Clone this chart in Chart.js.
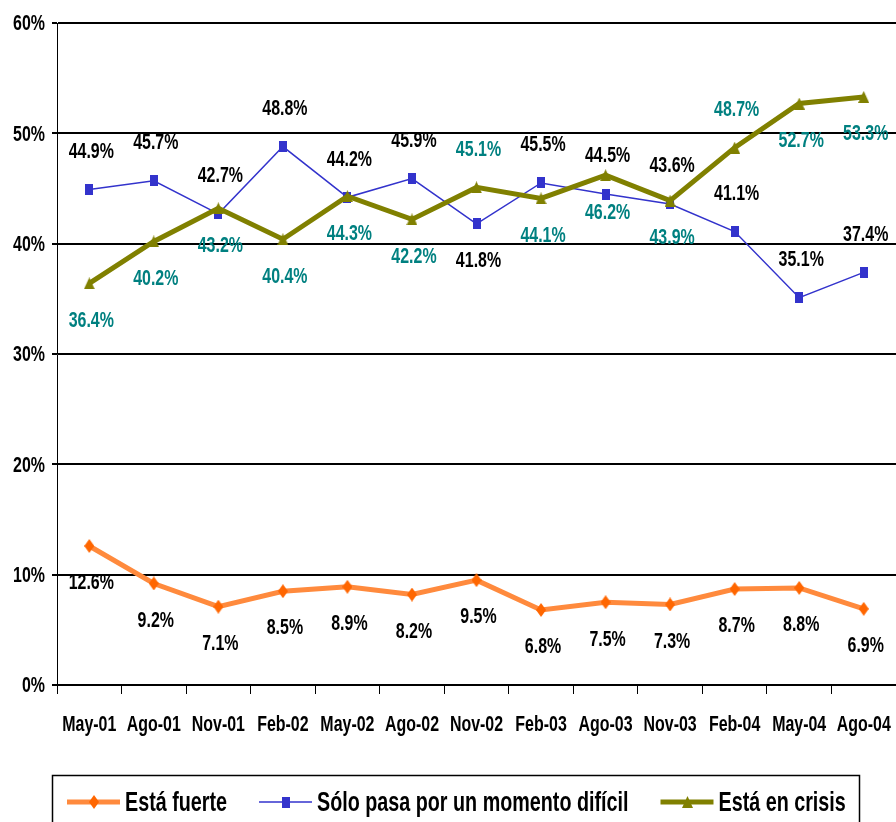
<!DOCTYPE html>
<html>
<head>
<meta charset="utf-8">
<script src="https://cdn.jsdelivr.net/npm/chart.js@4.4.1/dist/chart.umd.min.js"></script>
<style>
  html, body { margin: 0; padding: 0; background: #fff; }
  canvas { display: block; }
</style>
</head>
<body>
<canvas id="line-chart" width="896" height="822"></canvas>
<script>
var periodos = ["May-01", "Ago-01", "Nov-01", "Feb-02", "May-02", "Ago-02", "Nov-02",
                "Feb-03", "Ago-03", "Nov-03", "Feb-04", "May-04", "Ago-04"];
var fuerte = [12.6, 9.2, 7.1, 8.5, 8.9, 8.2, 9.5, 6.8, 7.5, 7.3, 8.7, 8.8, 6.9];
var momento = [44.9, 45.7, 42.7, 48.8, 44.2, 45.9, 41.8, 45.5, 44.5, 43.6, 41.1, 35.1, 37.4];
var crisis = [36.4, 40.2, 43.2, 40.4, 44.3, 42.2, 45.1, 44.1, 46.2, 43.9, 48.7, 52.7, 53.3];
var yTicks = [0, 10, 20, 30, 40, 50, 60];

// where each value label sits: "a" above the point, "b" below it
var posFuerte  = ["b","b","b","b","b","b","b","b","b","b","b","b","b"];
var posMomento = ["a","a","a","a","a","a","b","a","a","a","a","a","a"];
var posCrisis  = ["b","b","b","b","b","b","a","b","b","b","a","b","b"];

var FONT = '"Liberation Sans", Arial, sans-serif';
// the original text is a condensed, slightly tall bold face
var SX = 0.84, SY = 1.2;

function drawText(ctx, txt, x, y, size, color, align) {
  ctx.save();
  ctx.font = 'bold ' + size + 'px ' + FONT;
  ctx.fillStyle = color;
  ctx.textAlign = align || 'center';
  ctx.textBaseline = 'middle';
  ctx.translate(x, y);
  ctx.scale(SX, SY);
  ctx.fillText(txt, 0, 0);
  ctx.restore();
}

function marker(shape, w, h, color) {
  var c = document.createElement('canvas');
  c.width = w; c.height = h;
  var g = c.getContext('2d');
  g.fillStyle = color;
  g.beginPath();
  if (shape === 'diamond') {
    g.moveTo(w / 2, 0); g.lineTo(w, h / 2); g.lineTo(w / 2, h); g.lineTo(0, h / 2);
  } else if (shape === 'triangle') {
    g.moveTo(w / 2, 0); g.lineTo(w, h); g.lineTo(0, h);
  } else {
    g.rect(0, 0, w, h);
  }
  g.closePath();
  g.fill();
  return c;
}

var valueLabels = {
  id: 'valueLabels',
  afterDatasetsDraw: function(chart) {
    var ctx = chart.ctx;
    chart.data.datasets.forEach(function(ds, i) {
      var meta = chart.getDatasetMeta(i);
      meta.data.forEach(function(pt, j) {
        var dy = ds.labelPos[j] === "a" ? -38 : 37;
        drawText(ctx, ds.data[j].toFixed(1) + '%', pt.x + 2, pt.y + dy, 19, ds.labelColor);
      });
    });
  }
};

var axisLabels = {
  id: 'axisLabels',
  afterDraw: function(chart) {
    var ctx = chart.ctx;
    var xs = chart.scales.x, ys = chart.scales.y;
    periodos.forEach(function(p, i) {
      drawText(ctx, p, xs.getPixelForValue(i), 725, 19, '#000');
    });
    yTicks.forEach(function(v) {
      drawText(ctx, v + '%', 45, ys.getPixelForValue(v) + 1, 19, '#000', 'right');
    });
  }
};

var boxLegend = {
  id: 'boxLegend',
  afterDraw: function(chart) {
    var ctx = chart.ctx;
    ctx.save();
    ctx.strokeStyle = '#000';
    ctx.lineWidth = 1.5;
    ctx.strokeRect(52.5, 775.5, 807, 80);
    ctx.font = 'bold 23.5px ' + FONT;
    var x = 67, y = 802;
    chart.data.datasets.forEach(function(ds) {
      ctx.strokeStyle = ds.borderColor;
      ctx.lineWidth = ds.borderWidth;
      ctx.beginPath();
      ctx.moveTo(x, y);
      ctx.lineTo(x + 53, y);
      ctx.stroke();
      var img = ds.pointStyle;
      ctx.drawImage(img, x + 27 - img.width / 2, y - img.height / 2);
      drawText(ctx, ds.label, x + 58, y + 1, 23.5, '#000', 'left');
      x += 58 + ctx.measureText(ds.label).width * SX + 32;
    });
    ctx.restore();
  }
};

new Chart(document.getElementById("line-chart"), {
  type: 'line',
  data: {
    labels: periodos,
    datasets: [{
        label: "Está fuerte",
        data: fuerte,
        borderColor: "#FF8A3D",
        borderWidth: 5,
        pointStyle: marker('diamond', 10, 14, "#FF6600"),
        labelColor: "#000000",
        labelPos: posFuerte,
        order: 2
      }, {
        label: "Sólo pasa por un momento difícil",
        data: momento,
        borderColor: "#3333CC",
        borderWidth: 1.5,
        pointStyle: marker('rect', 8, 11, "#3333CC"),
        labelColor: "#000000",
        labelPos: posMomento,
        order: 1
      }, {
        label: "Está en crisis",
        data: crisis,
        borderColor: "#808000",
        borderWidth: 5,
        pointStyle: marker('triangle', 11, 12, "#808000"),
        labelColor: "#008080",
        labelPos: posCrisis,
        order: 0
      }
    ]
  },
  options: {
    responsive: false,
    animation: false,
    devicePixelRatio: 1,
    layout: { autoPadding: false, padding: { top: 23, right: -2, bottom: 77, left: 0 } },
    plugins: {
      legend: { display: false },
      tooltip: { enabled: false }
    },
    elements: { line: { tension: 0, fill: false } },
    scales: {
      x: {
        offset: true,
        grid: { drawOnChartArea: false, offset: true, tickLength: 9, color: '#000', lineWidth: 1 },
        border: { display: true, color: '#000', width: 2 },
        ticks: { display: false, autoSkip: false },
        afterFit: function(s) { s.height = 60; }
      },
      y: {
        min: 0,
        max: 60,
        afterBuildTicks: function(s) { s.ticks = yTicks.map(function(v) { return { value: v }; }); },
        grid: { color: '#000', lineWidth: 2, tickLength: 5 },
        border: { display: true, color: '#000', width: 1 },
        ticks: { display: false },
        afterFit: function(s) { s.width = 57; }
      }
    }
  },
  plugins: [valueLabels, axisLabels, boxLegend]
});
</script>
</body>
</html>
